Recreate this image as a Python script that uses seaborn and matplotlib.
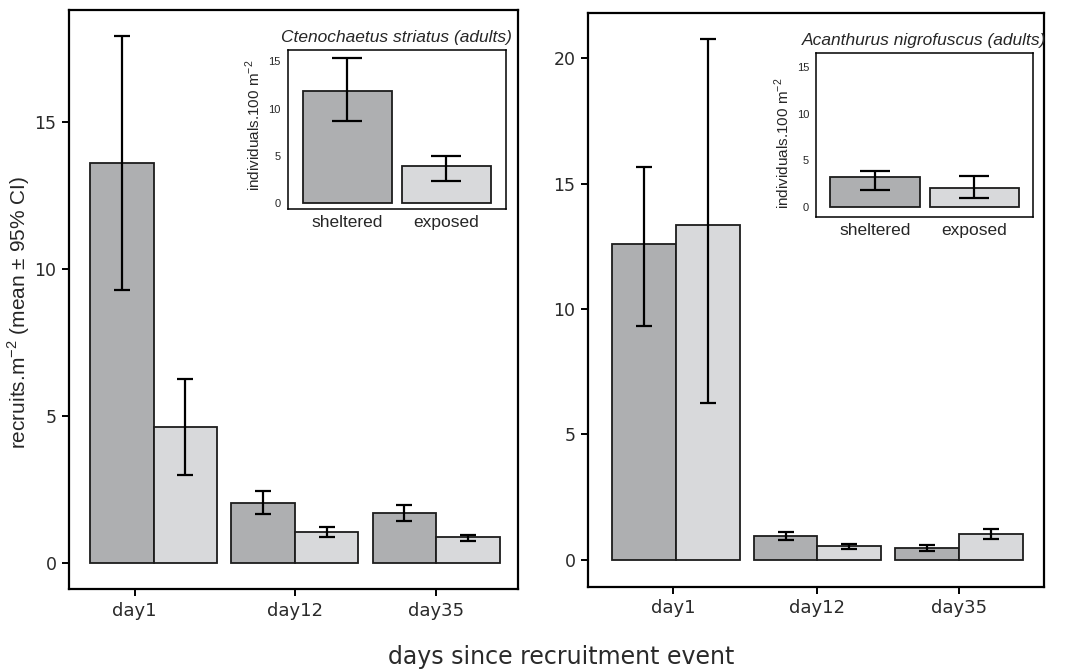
import numpy as np
import pandas as pd
import seaborn as sns
import matplotlib.pyplot as plt

days = ['day1', 'day12', 'day35']
habitats = ['sheltered', 'exposed']

# Ctenochaetus striatus recruits (mean, lower CI, upper CI)
cs_sheltered_mean = [13.6, 2.04, 1.70]
cs_sheltered_lo = [9.29, 1.67, 1.43]
cs_sheltered_hi = [17.9, 2.45, 1.97]
cs_exposed_mean = [4.63, 1.05, 0.88]
cs_exposed_lo = [2.99, 0.88, 0.75]
cs_exposed_hi = [6.26, 1.22, 0.95]

# Acanthurus nigrofuscus recruits
an_sheltered_mean = [12.59, 0.96, 0.48]
an_sheltered_lo = [9.32, 0.80, 0.36]
an_sheltered_hi = [15.66, 1.12, 0.60]
an_exposed_mean = [13.35, 0.56, 1.04]
an_exposed_lo = [6.25, 0.44, 0.84]
an_exposed_hi = [20.76, 0.64, 1.24]

# adults (insets), order: sheltered, exposed
cs_adult_mean = [11.9, 3.9]
cs_adult_lo = [8.66, 2.3]
cs_adult_hi = [15.4, 4.96]
an_adult_mean = [3.2, 2.04]
an_adult_lo = [1.8, 0.97]
an_adult_hi = [3.9, 3.33]

palette = {'sheltered': '#aeafb1', 'exposed': '#d8d9db'}
edge = '#1c1c1c'


def recruit_frame(sm, sl, sh, em, el, eh):
    rows = []
    for i, d in enumerate(days):
        rows.append(dict(day=d, habitat='sheltered', mean=sm[i], lo=sl[i], hi=sh[i]))
    for i, d in enumerate(days):
        rows.append(dict(day=d, habitat='exposed', mean=em[i], lo=el[i], hi=eh[i]))
    return pd.DataFrame(rows)


def add_errorbars(ax, df, capsize):
    # patches come out hue-major, same order as the frame rows
    bars = [p for p in ax.patches if p.get_height() > 0]
    xs = [p.get_x() + p.get_width() / 2 for p in bars]
    ax.errorbar(xs, df['mean'], yerr=[df['mean'] - df['lo'], df['hi'] - df['mean']],
                fmt='none', ecolor='black', elinewidth=1.6, capsize=capsize,
                capthick=1.6, zorder=5)


def main_panel(ax, df, ylim, xlim, ticks, xticks):
    sns.barplot(data=df, x='day', y='mean', hue='habitat', order=days,
                hue_order=habitats, palette=palette, width=0.9, errorbar=None,
                edgecolor=edge, linewidth=1.3, legend=False, ax=ax)
    add_errorbars(ax, df, 5.5)
    ax.set_xlim(*xlim)
    ax.set_ylim(*ylim)
    ax.set_yticks(ticks)
    ax.set_yticklabels([str(t) for t in ticks], fontsize=12.5, family='DejaVu Sans',
                       color='#2a2a2a')
    ax.set_xticks(xticks)
    ax.set_xticklabels(days, fontsize=13, family='DejaVu Sans', color='#2a2a2a')
    ax.set_xlabel('')
    ax.set_ylabel('')
    ax.tick_params(axis='both', direction='out', length=5, width=1.4, color='black',
                   pad=4, bottom=True, left=True, top=False, right=False)
    for s in ax.spines.values():
        s.set_color('black')
        s.set_linewidth(1.6)


def inset_panel(ax, mean, lo, hi, title, ylim, xlim, label_xy):
    df = pd.DataFrame(dict(habitat=habitats, mean=mean, lo=lo, hi=hi))
    sns.barplot(data=df, x='habitat', y='mean', hue='habitat', order=habitats,
                palette=palette, width=0.9, errorbar=None, edgecolor=edge,
                linewidth=1.3, legend=False, ax=ax)
    add_errorbars(ax, df, 11)
    ax.set_xlim(*xlim)
    ax.set_ylim(*ylim)
    ax.set_yticks([0, 5, 10, 15])
    ax.set_yticklabels(['0', '5', '10', '15'], fontsize=8)
    ax.tick_params(axis='both', length=0, pad=5)
    ax.tick_params(axis='x', labelsize=12.5, pad=4)
    ax.set_xlabel('')
    ax.set_ylabel('individuals.100 m$^{-2}$', fontsize=11)
    ax.yaxis.set_label_coords(*label_xy)
    ax.set_title(title, fontsize=12.5, style='italic', pad=6)
    for s in ax.spines.values():
        s.set_color('black')
        s.set_linewidth(1.1)


sns.set_style('ticks')
plt.rcParams['font.family'] = ['Liberation Sans', 'DejaVu Sans']
plt.rcParams['mathtext.fontset'] = 'custom'
plt.rcParams['mathtext.rm'] = 'Liberation Sans'

fig = plt.figure(figsize=(10.78, 6.71), dpi=100)
ax1 = fig.add_axes([0.064, 0.1222, 0.4165, 0.863])
ax2 = fig.add_axes([0.5455, 0.1252, 0.423, 0.8554])
in1 = fig.add_axes([0.267, 0.6885, 0.2022, 0.237])
in2 = fig.add_axes([0.757, 0.6766, 0.2013, 0.2444])

cs = recruit_frame(cs_sheltered_mean, cs_sheltered_lo, cs_sheltered_hi,
                   cs_exposed_mean, cs_exposed_lo, cs_exposed_hi)
an = recruit_frame(an_sheltered_mean, an_sheltered_lo, an_sheltered_hi,
                   an_exposed_mean, an_exposed_lo, an_exposed_hi)

main_panel(ax1, cs, (-0.88, 18.8), (-0.6, 2.58), [0, 5, 10, 15], [-0.135, 1, 2])
main_panel(ax2, an, (-1.08, 21.8), (-0.62, 2.60), [0, 5, 10, 15, 20], [-0.02, 1, 2])

ax1.set_ylabel('recruits.m$^{-2}$ (mean ± 95% CI)', fontsize=15)
ax1.yaxis.set_label_coords(-0.082, 0.477)

inset_panel(in1, cs_adult_mean, cs_adult_lo, cs_adult_hi,
            'Ctenochaetus striatus (adults)', (-0.63, 16.2), (-0.6, 1.6), (-0.115, 0.53))
inset_panel(in2, an_adult_mean, an_adult_lo, an_adult_hi,
            'Acanthurus nigrofuscus (adults)', (-1.07, 16.5), (-0.59, 1.59), (-0.11, 0.45))

fig.text(0.521, 0.021, 'days since recruitment event', fontsize=17,
         family='DejaVu Sans', color='#2a2a2a', ha='center', va='center')

plt.savefig('out.png', dpi=100)
